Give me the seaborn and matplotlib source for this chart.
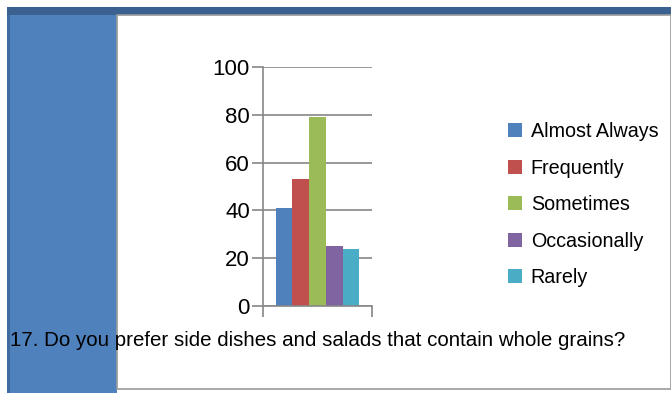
import matplotlib
matplotlib.use("Agg")
import matplotlib.pyplot as plt
import matplotlib.patches as mpatches
import seaborn as sns
import pandas as pd

# Survey responses for question 17
categories = ["Almost Always", "Frequently", "Sometimes", "Occasionally", "Rarely"]
values = [41, 53, 79, 25, 24]
colors = ["#4F81BD", "#C0504D", "#9BBB59", "#8064A2", "#4BACC6"]
yticks = [0, 20, 40, 60, 80, 100]
question = "17. Do you prefer side dishes and salads that contain whole grains?"

sns.set_style("white")
plt.rcParams["font.family"] = ["Liberation Sans Narrow", "Liberation Sans", "DejaVu Sans"]
plt.rcParams["text.color"] = "black"

W, H = 671, 393
fig = plt.figure(figsize=(W / 100, H / 100), dpi=100)
fig.patch.set_facecolor("white")

def px_rect(x0, y0, x1, y1, **kw):
    # rectangle given in pixel coordinates from the top-left corner
    r = mpatches.Rectangle((x0 / W, 1 - y1 / H), (x1 - x0) / W, (y1 - y0) / H,
                           transform=fig.transFigure, **kw)
    fig.patches.append(r)

# slide-style frame: top band, left panel, white content area
px_rect(7, 7, W, 15, facecolor="#3B6190", edgecolor="none", zorder=-3)
px_rect(7, 15, 117, H, facecolor="#4F81BD", edgecolor="none", zorder=-3)
px_rect(7, 15, 10, H, facecolor="#3E6A9E", edgecolor="none", zorder=-2)
px_rect(117, 15, W, 389, facecolor="white", edgecolor="#9A9A9A", linewidth=1.2, zorder=-2)

df = pd.DataFrame({"group": [""] * len(categories), "response": categories, "value": values})

ax = fig.add_axes([263 / W, 1 - 306 / H, (372 - 263) / W, (306 - 67) / H])
ax.set_zorder(5)
ax.patch.set_alpha(0)
sns.barplot(data=df, x="group", y="value", hue="response", hue_order=categories,
            palette=colors, width=0.77, saturation=1, ax=ax, legend=False)
for p in ax.patches:
    p.set_edgecolor("none")

ax.set_ylim(0, 100)
ax.set_xlim(-0.5, 0.5)
ax.set_yticks(yticks)
ax.set_yticklabels([str(t) for t in yticks], fontsize=16)
ax.set_xticks([-0.5, 0.5])
ax.set_xticklabels([])
ax.set_xlabel("")
ax.set_ylabel("")
ax.yaxis.grid(True, color="#868686", linewidth=1.2)
ax.set_axisbelow(True)
ax.tick_params(axis="y", left=True, length=8, width=1.2, color="#868686", pad=1.5, labelcolor="black")
ax.tick_params(axis="x", bottom=True, length=8, width=1.2, color="#868686", direction="out")
for side in ["top", "right"]:
    ax.spines[side].set_visible(False)
for side in ["left", "bottom"]:
    ax.spines[side].set_visible(True)
    ax.spines[side].set_color("#868686")
    ax.spines[side].set_linewidth(1.2)

handles = [mpatches.Patch(facecolor=c, edgecolor="none", label=l) for c, l in zip(colors, categories)]
leg = fig.legend(handles=handles, loc="upper left", bbox_to_anchor=(508 / W, 1 - 122 / H),
                 frameon=False, fontsize=14.2, handlelength=0.7, handleheight=0.7,
                 handletextpad=0.45, labelspacing=0.89, borderpad=0, borderaxespad=0,
                 labelcolor="black")
leg.set_zorder(6)

fig.text(10 / W, 1 - 340 / H, question, fontsize=14.8, va="center", ha="left",
         color="black", zorder=6)

fig.savefig("out.png", dpi=100)
